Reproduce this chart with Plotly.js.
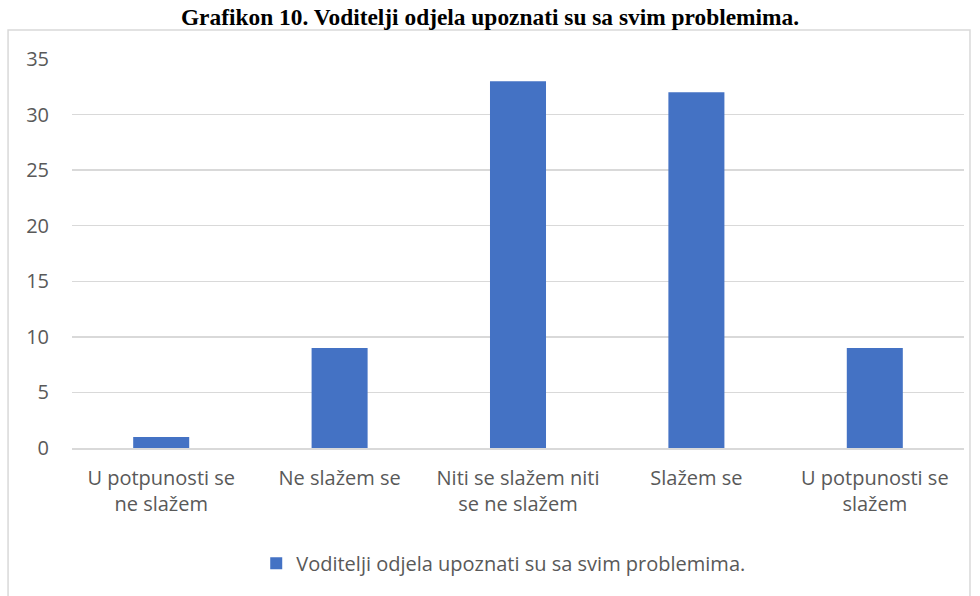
<!DOCTYPE html>
<html>
<head>
<meta charset="utf-8">
<script src="https://cdn.plot.ly/plotly-3.0.1.min.js"></script>
<style>html,body{margin:0;padding:0;background:#fff;}#chart{width:980px;height:596px;}</style>
</head>
<body>
<div id="chart"></div>
<script>
const categories = ["U potpunosti se<br>ne slažem", "Ne slažem se", "Niti se slažem niti<br>se ne slažem", "Slažem se", "U potpunosti se<br>slažem"];
const values = [1, 9, 33, 32, 9];
const seriesName = "Voditelji odjela upoznati su sa svim problemima.";
const titleText = "<b>Grafikon 10. Voditelji odjela upoznati su sa svim problemima.</b>";

const font = "'Open Sans', sans-serif";
const fs = 20;
const trace = {
  type: "bar",
  x: categories,
  y: values,
  name: seriesName,
  marker: {color: "#4472C4"},
  hoverinfo: "x+y"
};
const layout = {
  width: 980, height: 596,
  margin: {l: 72, r: 16, t: 59, b: 148},
  paper_bgcolor: "#fff", plot_bgcolor: "#fff",
  bargap: 0.686,
  title: {text: titleText, x: 0.5, xanchor: "center", y: 0.972, yanchor: "middle", yref: "container",
          font: {family: "'Liberation Serif', 'Times New Roman', serif", size: 23.4, color: "#000"}},
  font: {family: font, size: fs, color: "#595959"},
  xaxis: {showgrid: false, showline: true, linecolor: "#d9d9d9", linewidth: 2,
          ticks: "outside", ticklen: 11, tickcolor: "rgba(0,0,0,0)", tickfont: {size: fs, color: "#595959"}},
  yaxis: {range: [0, 35], dtick: 5, showgrid: true, gridcolor: "#d9d9d9", gridwidth: 1.5, zeroline: false,
          ticks: "outside", ticklen: 18, tickcolor: "rgba(0,0,0,0)", tickfont: {size: fs, color: "#595959"}},
  showlegend: true,
  legend: {orientation: "h", x: 0.484, xanchor: "center", y: -0.296, yanchor: "middle",
           font: {size: fs, color: "#595959"}, itemwidth: 30},
  shapes: [{type: "rect", xref: "paper", yref: "paper", x0: -0.0717, x1: 1.0067, y0: -0.5, y1: 1.0746,
            line: {color: "#d9d9d9", width: 1.5}, fillcolor: "rgba(0,0,0,0)", layer: "below"}]
};
Plotly.newPlot("chart", [trace], layout, {displayModeBar: false, staticPlot: true});
</script>
</body>
</html>
